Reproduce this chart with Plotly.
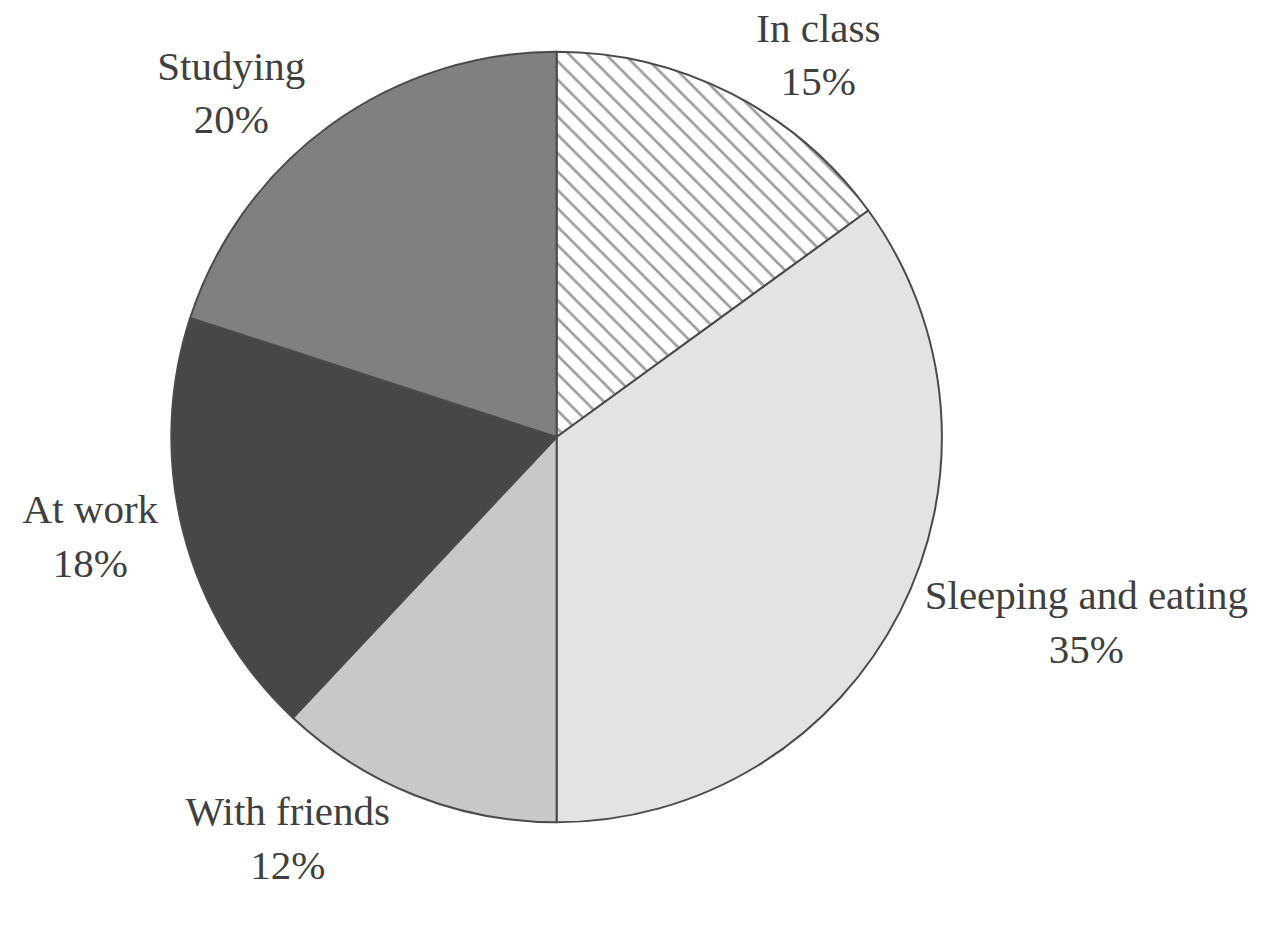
import plotly.graph_objects as go

# Share of a student's week spent on each activity (clockwise from 12 o'clock)
activities = ["In class", "Sleeping and eating", "With friends", "At work", "Studying"]
shares = [15, 35, 12, 18, 20]

fill_colors = ["#ffffff", "#e3e3e3", "#c8c8c8", "#474747", "#808080"]
patterns = ["\\", "", "", "", ""]

fig = go.Figure(
    go.Pie(
        labels=activities,
        values=shares,
        sort=False,
        direction="clockwise",
        rotation=0,
        marker=dict(
            colors=fill_colors,
            line=dict(color="#4a4a4a", width=2),
            pattern=dict(
                shape=patterns,
                fgcolor="#3a3a3a",
                bgcolor="#ffffff",
                size=13,
                solidity=0.2,
                fillmode="overlay",
            ),
        ),
        texttemplate="%{label}<br>%{value}%",
        textposition="outside",
        textfont=dict(family="Liberation Serif", size=41, color="#3f3f3f"),
        hoverinfo="label+percent",
        showlegend=False,
        domain=dict(x=[0.123, 0.750], y=[0.118, 0.978]),
    )
)

fig.update_layout(
    width=1271,
    height=928,
    margin=dict(l=0, r=0, t=0, b=0),
    paper_bgcolor="#ffffff",
    plot_bgcolor="#ffffff",
)

fig.write_html("out.html")
